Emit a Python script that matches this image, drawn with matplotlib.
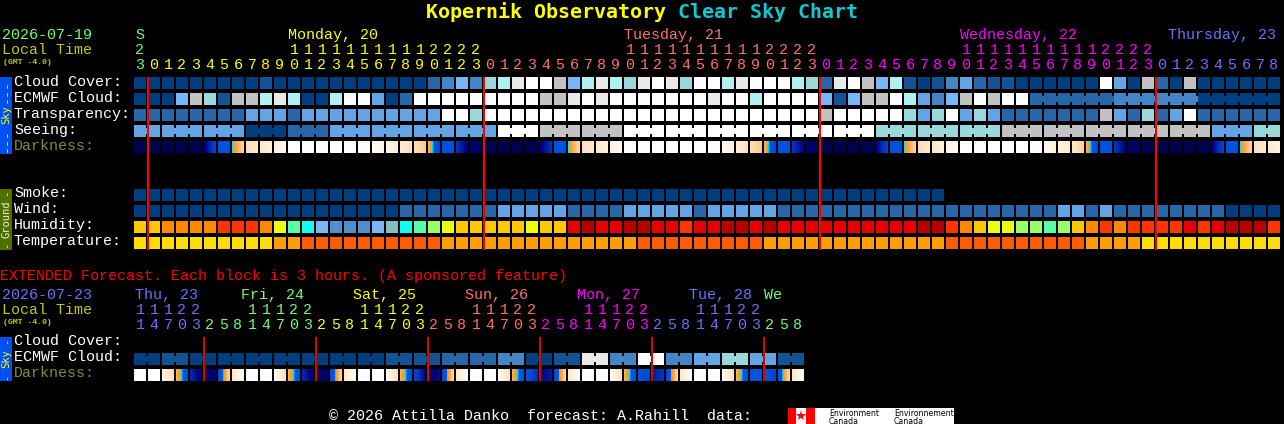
import matplotlib
matplotlib.use("Agg")
import matplotlib.pyplot as plt
from matplotlib.colors import LinearSegmentedColormap
import numpy as np

# ================================
# DATA
# ================================
HOURS = [23] + list(range(24)) * 3 + list(range(9))

CLOUD = [0,0,0,0,0,0,0,0,0,1,0,0,0,0,0,0,0,0,0,0,0,2,3,5,3,6,7,9,10,10,
         8,5,7,9,7,6,9,10,9,6,10,10,7,9,10,10,10,7,6,2,9,10,8,5,7,1,0,1,3,4,
         2,1,1,0,0,0,0,0,0,10,4,0,8,2,0,8,0,0,0,0,0,0]
ECMWF = [0,0,0,5,8,6,1,8,8,7,9,7,0,0,7,10,10,4,0,2,10,10,10,10,10,10,10,10,10,8,
         8,9,10,9,10,10,10,10,10,10,10,9,10,10,7,10,10,10,10,5,1,5,8,8,10,7,4,3,5,8,
         10,8,10,10,2,2,2,2,2,2,3,3,3,3,3,3,0,0,0,0,0,0]
TRANSP = [2,2,2,2,2,2,2,2,4,4,4,2,4,4,4,4,4,4,4,4,4,4,10,10,6,10,10,10,10,10,
          10,10,10,10,10,10,10,10,10,10,10,10,10,10,10,10,10,10,10,8,10,10,10,10,10,6,4,6,10,4,
          6,4,2,2,2,2,2,2,2,8,4,2,6,2,4,10,2,2,2,2,2,2]
SEEING = [4,4,4,4,4,4,4,4,0,0,0,2,2,2,4,4,4,4,4,4,4,4,4,4,4,4,10,10,10,8,
          8,8,8,8,8,10,10,10,10,10,10,10,10,10,10,10,10,10,10,10,10,10,10,6,6,6,6,6,6,6,
          6,6,8,8,8,8,8,8,8,8,8,8,8,8,8,8,8,4,4,4,6,6]
SMOKE = [0] * 58
WIND = [0,0,0,0,0,0,0,0,0,0,0,0,0,0,0,0,0,0,0,2,2,2,2,2,2,2,4,4,4,4,
        4,2,2,2,2,4,4,4,4,4,2,4,4,4,4,4,2,2,2,2,2,2,2,2,2,2,2,2,2,2,
        2,2,2,2,2,2,4,4,2,4,2,2,2,2,2,2,2,2,0,0,0,0]
HUMIDITY = [7,7,8,8,8,8,9,9,9,8,6,4,3,1,0,0,0,1,2,3,4,5,6,7,7,7,7,7,6,7,
            7,10,11,10,10,11,11,10,10,9,10,10,11,11,10,11,10,10,10,10,10,10,10,10,10,10,11,11,9,8,
            7,6,6,5,5,4,5,7,8,9,8,9,9,9,9,10,9,10,11,11,11,9]
TEMP = [0,0,0,0,0,0,0,0,0,0,1,1,2,2,2,2,2,2,2,2,2,2,1,1,1,1,1,1,1,1,
        1,1,1,1,1,1,2,2,2,2,2,2,2,2,2,1,1,1,1,1,1,1,1,1,1,1,1,1,2,2,
        2,2,2,2,2,2,2,2,1,1,1,1,0,0,0,0,0,0,0,0,0,0]

# darkness level at the left and right edge of each block
DARK_L = [0,0,0,0,0,0.8,3,4,5.9,6.2,6.5,7,7,7,7,7,7,6.9,6.7,6.4,6,4.8,3,2,0.8,0.2,0,0,0,0.8,
          3,4,6,6.2,6.5,7,7,7,7,7,7,7,6.8,6.5,6,4.8,3,2,0.7,0.1,0,0,0,1,3,4,5.9,6.2,6.6,7,
          7,7,7,7,7,6.8,6.6,6.2,4.8,3,2,0.7,0.1,0,0,0,0,1,3,4,6,6.3]
DARK_R = [0,0,0,0,0,2.5,3,5.7,6.3,6.6,6.9,7,7,7,7,7,6.9,6.7,6.4,6,5.5,2.5,3,0.9,0.3,0,0,0,0,2,
          3,5.8,6.3,6.6,6.9,7,7,7,7,7,7,6.9,6.5,6.1,5.4,2.5,3,1,0.3,0,0,0,0,2.5,3,5.7,6.3,6.6,6.9,7,
          7,7,7,7,6.9,6.5,6.3,5.6,2.5,3,1,0.3,0,0,0,0,0,2.5,3,5.7,6.3,6.6]

EXT_HOURS = [1, 4, 7, 0, 3, 2, 5, 8] * 6
EXT_TENS = ["1", "1", "1", "2", "2", "", "", ""] * 6
EXT_ECMWF = [0,0,1,1,0,0,0,0,0,0,0,0,0,0,0,0,0,0,1,1,1,1,2,2,2,2,3,3,0,0,
             1,1,9,9,3,3,10,10,3,3,4,4,6,6,4,4,1,1]
EXT_DARK_L = [7,7,6.6,4.8,1.8,0.3,2.5,6.2,7,7,6.9,4.8,1.8,0.3,2.5,6.2,7,7,6.9,4.8,2.5,0.5,2.5,6.2,
              7,7,6.9,4.8,3,1,2.5,6.2,7,7,6.9,4.8,3,1.5,2.5,6.2,7,7,6.9,4.8,3,3,2.8,6.2]
EXT_DARK_R = [7,7,5.9,3,0.7,1,5.7,6.9,7,7,6,3,0.7,0.8,5.7,6.9,7,7,6,3,1,1.2,5.8,6.9,
              7,7,6,3,1.8,1.5,5.8,6.9,7,7,6,3,2.5,2,5.8,6.9,7,7,6,3,3,2.5,5.8,6.9]

CLOUD_COLORS = ["#003f7f", "#135393", "#2767a7", "#4485c5", "#62a4e4", "#77b7f7",
                "#99d9d9", "#b0f0f0", "#c2c2c2", "#e9e9e9", "#ffffff"]
HUMID_COLORS = ["#4f8fcf", "#77b7f7", "#80c0c0", "#10ffee", "#55ffaa", "#99ff66",
                "#eaff10", "#ffc800", "#ff8800", "#ff3500", "#e80000", "#b80000"]
TEMP_COLORS = ["#ffde00", "#ff9e00", "#ff5c00"]
DARK_LEVELS = [0, 1, 2, 3, 3.7, 4, 4.3, 5, 6, 7]
DARK_COLORS = ["#00004f", "#00007f", "#0038c0", "#0054e0", "#0054e0", "#00e8ff", "#ff9a1a",
               "#ffb868", "#ffe0b8", "#ffffff"]

GREEN = "#70ff70"
YELLOW = "#ffff00"
SALMON = "#ff7070"
MAGENTA = "#ff00ff"
BLUE = "#7070ff"
LOCAL = "#c8c800"
OLIVE = "#8a8a2a"

# ================================
# LAYOUT
# ================================
X0 = 134
PITCH = 14
BLOCK = 12
MONO = "Liberation Mono"
FS = 10.8

fig = plt.figure(figsize=(12.84, 4.24), dpi=100, facecolor="black")
ax = fig.add_axes([0, 0, 1, 1])
ax.set_xlim(0, 1284)
ax.set_ylim(424, 0)
ax.axis("off")


def text(x, y, s, color="white", size=FS, **kw):
    kw.setdefault("ha", "left")
    kw.setdefault("va", "baseline")
    kw.setdefault("family", MONO)
    ax.text(x, y, s, color=color, fontsize=size, **kw)


def side(y, s, color, size=7.5):
    text(6, y, s, color=color, size=size, rotation=90, ha="center", va="center",
         family="DejaVu Sans Mono")


def row(y, values, palette, start=0):
    xs = X0 + PITCH * (np.arange(len(values)) + start)
    ax.bar(xs, BLOCK, width=BLOCK, bottom=y, align="edge",
           color=[palette[v] for v in values], antialiased=False, zorder=2)


def bridges(y, values, palette, joined):
    # small connector across the gap between joined blocks
    for i in joined:
        ax.bar(X0 + PITCH * i + BLOCK, BLOCK - 6, width=PITCH - BLOCK, bottom=y + 3,
               align="edge", color=palette[values[i]], antialiased=False, zorder=2)


dark_cmap = LinearSegmentedColormap.from_list(
    "dark", [(lv / 7, c) for lv, c in zip(DARK_LEVELS, DARK_COLORS)], N=1024)


def dark_row(y, left, right):
    for i, (a, b) in enumerate(zip(left, right)):
        x = X0 + PITCH * i
        ax.imshow(np.linspace(a, b, BLOCK).reshape(1, -1), cmap=dark_cmap, vmin=0, vmax=7,
                  extent=(x, x + BLOCK, y + BLOCK, y), aspect="auto",
                  interpolation="nearest", zorder=2)


# ================================
# TITLE
# ================================
text(426, 18, "Kopernik Observatory", color=YELLOW, size=14.4, weight="bold", family="DejaVu Sans Mono")
text(678, 18, "Clear Sky Chart", color="#10c8d0", size=14.4, weight="bold", family="DejaVu Sans Mono")

# ================================
# MAIN CHART
# ================================
text(2, 39, "2026-07-19", color=GREEN)
text(2, 54, "Local Time", color=LOCAL)
text(3, 64, "(GMT -4.0)", color=LOCAL, size=5.9, weight="bold")
text(135, 39, "S", color=GREEN)
text(288, 39, "Monday, 20", color=YELLOW)
text(624, 39, "Tuesday, 21", color=SALMON)
text(960, 39, "Wednesday, 22", color=MAGENTA)
text(1168, 39, "Thursday, 23", color=BLUE)

day_colors = [GREEN] + [YELLOW] * 24 + [SALMON] * 24 + [MAGENTA] * 24 + [BLUE] * 9
for i, (h, c) in enumerate(zip(HOURS, day_colors)):
    x = X0 + PITCH * i + 6
    text(x, 69, str(h % 10), color=c, ha="center")
    if c != BLUE and h >= 10:
        text(x, 54, str(h // 10), color=c, ha="center")

labels = [(86, "Cloud Cover:", "white"), (102, "ECMWF Cloud:", "white"),
          (118, "Transparency:", "white"), (134, "Seeing:", "white"),
          (150, "Darkness:", OLIVE), (197, "Smoke:", "white"), (213, "Wind:", "white"),
          (229, "Humidity:", "white"), (245, "Temperature:", "white")]
for y, s, c in labels:
    text(14, y, s, color=c)

row(77, CLOUD, CLOUD_COLORS)
row(93, ECMWF, CLOUD_COLORS)
bridges(93, ECMWF, CLOUD_COLORS, range(64, 81))
row(109, TRANSP, CLOUD_COLORS)
row(125, SEEING, CLOUD_COLORS)
bridges(125, SEEING, CLOUD_COLORS, [i for i in range(81) if (i + 1) % 3 != 2])
dark_row(141, DARK_L, DARK_R)
row(189, SMOKE, CLOUD_COLORS)
row(205, WIND, CLOUD_COLORS)
row(221, HUMIDITY, HUMID_COLORS)
row(237, TEMP, TEMP_COLORS)

for x in (147, 483, 819, 1155):
    ax.bar(x, 173, width=2, bottom=77, align="edge", color="#ff0000", antialiased=False, zorder=3)

# side tabs
ax.bar(0, 77, width=12, bottom=77, align="edge", color="#0050f0", antialiased=False)
side(115, "Sky", YELLOW)
side(91, "---", YELLOW, size=9.5)
side(140, "---", YELLOW, size=9.5)
ax.bar(0, 61, width=12, bottom=189, align="edge", color="#4f6f00", antialiased=False)
side(219, "Ground", "#f0f0c0")
side(193, "-", "#f0f0c0")
side(245, "-", "#f0f0c0")

# ================================
# EXTENDED FORECAST
# ================================
text(0, 280, "EXTENDED Forecast. Each block is 3 hours. (A sponsored feature)", color="#ff0000")
text(2, 299, "2026-07-23", color=BLUE)
text(2, 314, "Local Time", color=LOCAL)
text(3, 324, "(GMT -4.0)", color=LOCAL, size=5.9, weight="bold")
for x, s, c in [(135, "Thu, 23", BLUE), (241, "Fri, 24", GREEN), (353, "Sat, 25", YELLOW),
                (465, "Sun, 26", SALMON), (577, "Mon, 27", MAGENTA), (689, "Tue, 28", BLUE),
                (764, "We", GREEN)]:
    text(x, 299, s, color=c)

ext_colors = [BLUE] * 5 + [GREEN] * 8 + [YELLOW] * 8 + [SALMON] * 8 + [MAGENTA] * 8 + [BLUE] * 8 + [GREEN] * 3
for i, (h, t, c) in enumerate(zip(EXT_HOURS, EXT_TENS, ext_colors)):
    x = X0 + PITCH * i + 6
    text(x, 329, str(h), color=c, ha="center")
    if t:
        text(x, 314, t, color=c, ha="center")

text(14, 345, "Cloud Cover:")
text(14, 361, "ECMWF Cloud:")
text(14, 377, "Darkness:", color=OLIVE)

row(353, EXT_ECMWF, CLOUD_COLORS)
bridges(353, EXT_ECMWF, CLOUD_COLORS, range(0, 47, 2))
dark_row(369, EXT_DARK_L, EXT_DARK_R)

for x in (203, 315, 427, 539, 651, 763):
    ax.bar(x, 44, width=2, bottom=337, align="edge", color="#e00000", antialiased=False, zorder=3)

ax.bar(0, 44, width=12, bottom=337, align="edge", color="#0050f0", antialiased=False)
side(359, "Sky", YELLOW)
side(341, "-", YELLOW)
side(377, "-", YELLOW)

# ================================
# FOOTER
# ================================
text(329, 420, "\u00a9 2026 Attilla Danko  forecast: A.Rahill  data:")
ax.bar(788, 16, width=166, bottom=408, align="edge", color="white", antialiased=False)
ax.bar(788, 16, width=8, bottom=408, align="edge", color="#ff0000", antialiased=False, zorder=2)
ax.bar(806, 16, width=9, bottom=408, align="edge", color="#ff0000", antialiased=False, zorder=2)
ax.plot([801], [416], marker="*", ms=8, color="#ff0000", mew=0, zorder=2)
text(829, 415.5, "Environment", color="black", size=5.6, family="DejaVu Sans", zorder=3)
text(829, 423.5, "Canada", color="black", size=5.6, family="DejaVu Sans", zorder=3)
text(894, 415.5, "Environnement", color="black", size=5.6, family="DejaVu Sans", zorder=3)
text(894, 423.5, "Canada", color="black", size=5.6, family="DejaVu Sans", zorder=3)

ax.set_xlim(0, 1284)
ax.set_ylim(424, 0)
fig.savefig("out.png", dpi=100, facecolor="black")
